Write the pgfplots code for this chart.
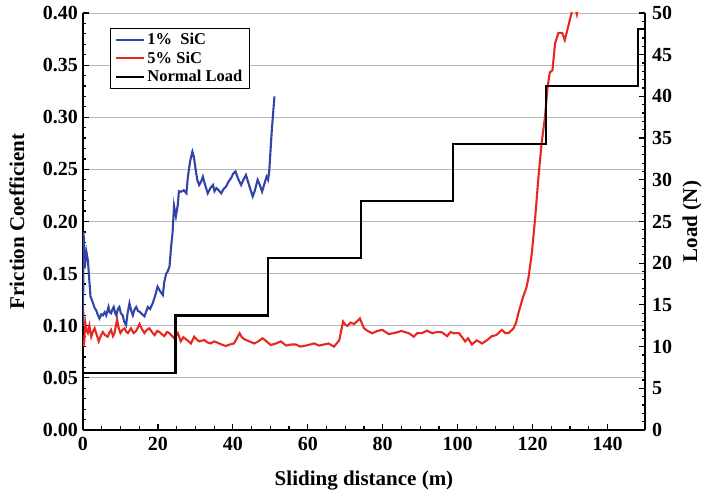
\documentclass[border=0pt]{standalone}
\usepackage{fontspec}
\setmainfont{Liberation Serif}
\usepackage{pgfplots}
\pgfplotsset{compat=1.18}
\definecolor{cblue}{RGB}{50,68,170}
\definecolor{cred}{RGB}{232,40,30}
\begin{document}
\begin{tikzpicture}
\pgfplotsset{
  every axis/.append style={
    scale only axis, width=562pt, height=417pt,
    xmin=0, xmax=150,
    /pgf/number format/assume math mode=true,
    tick label style={font=\fontsize{20}{22}\selectfont\bfseries},
    label style={font=\fontsize{21}{23}\selectfont\bfseries},
    line width=1.6pt,
    major tick length=6pt, minor tick length=3.5pt,
    every tick/.style={line width=1.2pt, black},
    tick align=inside,
  }
}
\begin{axis}[
  ymin=0, ymax=0.40,
  ytick={0,0.05,...,0.40},
  yticklabel style={xshift=-1pt, /pgf/number format/.cd, fixed, fixed zerofill, precision=2},
  xticklabel style={yshift=-3pt},
  xtick={0,20,...,140},
  minor x tick num=3,
  minor y tick num=4,
  ymajorgrids,
  major grid style={line width=0.8pt, gray!55},
  axis y line*=left,
  axis x line*=bottom,
  xlabel={Sliding distance (m)},
  ylabel={Friction Coefficient},
  xlabel style={yshift=-13pt},
  ylabel style={yshift=11pt},
  clip=true,
]
\addplot[cred, line width=2.1pt] coordinates {
(0,0.080) (0.3,0.083) (0.6,0.103) (0.9,0.096) (1.3,0.093) (1.7,0.1) (2.2,0.0895) (2.6,0.094) (3.1,0.0975) (3.6,0.092) (4.2,0.085) (4.7,0.09) (5.3,0.094)
(5.9,0.091) (6.6,0.0895) (7.0,0.093) (7.5,0.096) (8.0,0.09) (8.4,0.0928) (9.1,0.106) (9.5,0.098) (10,0.093) (10.5,0.096) (11.1,0.0975) (11.6,0.094) (12,0.093) (12.8,0.0975)
(13.5,0.093) (14.2,0.095) (15.1,0.1017) (15.7,0.097) (16.4,0.093) (17.0,0.096) (17.7,0.0975) (18.4,0.094) (19.1,0.091) (19.8,0.095) (20.4,0.094) (21.0,0.092) (21.7,0.090)
(22.4,0.094) (23.1,0.0928) (23.8,0.09) (24.4,0.088) (25.3,0.093) (26.1,0.085) (26.8,0.089) (27.5,0.087) (28.2,0.085) (28.8,0.083) (29.7,0.0895)
(30.3,0.087) (31,0.085) (32.4,0.0863) (33.2,0.084) (34.1,0.083) (35.0,0.085) (35.9,0.0837) (37.0,0.082) (38.1,0.0806) (39.2,0.082) (40.3,0.083) (41.8,0.0928)
(42.4,0.089) (43.1,0.087) (44.4,0.085) (45.7,0.083) (46.8,0.085) (47.9,0.088) (49.0,0.085) (50.1,0.0815) (51.5,0.083) (52.8,0.085) (54.2,0.081) (55.5,0.082) (56.8,0.082)
(58.0,0.080) (59.5,0.081) (60.6,0.082) (61.7,0.083) (63,0.081) (64.3,0.082) (65.5,0.083) (67,0.080) (68.4,0.086) (69.4,0.104)
(70.0,0.101) (70.6,0.0998) (71.4,0.103) (72.3,0.1017) (73.1,0.104) (73.9,0.107) (75,0.0975) (76.0,0.095) (77.2,0.0928) (78.5,0.095) (79.9,0.096) (81.6,0.092)
(83.4,0.0933) (85.0,0.095) (87,0.0928) (88.3,0.0895) (89.2,0.0928) (90.5,0.093) (91.8,0.0953) (93.2,0.0928) (94.5,0.094) (95.8,0.0937)
(97.2,0.090) (98.1,0.094) (98.9,0.0928) (100.3,0.093) (101.2,0.089) (102,0.085) (102.8,0.088) (103.8,0.082) (105.1,0.086) (106.5,0.083)
(107.8,0.086) (109.1,0.090) (110.3,0.091) (111.8,0.096) (112.7,0.093) (113.6,0.093) (114.9,0.0975) (115.6,0.103) (116.2,0.112) (117.4,0.127)
(118.3,0.136) (118.9,0.146) (119.8,0.170) (120.7,0.204) (121.5,0.240) (122.4,0.275) (123.3,0.300)
(124.0,0.329) (124.6,0.343) (125.3,0.345) (126.0,0.371) (126.9,0.381) (127.9,0.381)
(128.6,0.374) (129.5,0.387) (130.4,0.400) (131,0.41) (131.8,0.399) (132.2,0.41)
};
\addplot[cblue, line width=2.1pt] coordinates {
(0,0.10) (0.15,0.19) (0.45,0.155) (0.9,0.171) (1.3,0.163) (2.0,0.128) (2.7,0.1215) (3.1,0.117) (3.5,0.115)
(4.0,0.110) (4.4,0.107) (4.9,0.111) (5.3,0.110) (5.8,0.113) (6.2,0.110) (6.8,0.118) (7.1,0.113) (7.5,0.112) (7.9,0.116) (8.2,0.118) (8.6,0.112) (8.9,0.110) (9.3,0.116) (9.7,0.118)
(10.1,0.112) (10.6,0.110) (11.0,0.104) (11.5,0.1007) (11.9,0.112) (12.4,0.1215) (12.9,0.114) (13.3,0.110) (13.7,0.115) (14.2,0.118) (14.7,0.114) (15.1,0.1135) (15.8,0.111) (16.4,0.109)
(16.9,0.114) (17.3,0.118) (17.9,0.116) (18.6,0.1215) (19.2,0.128) (19.9,0.1375) (20.6,0.133) (21.3,0.1295) (21.7,0.142) (22.2,0.150) (22.6,0.152) (23.1,0.157) (23.5,0.175) (23.9,0.189)
(24.3,0.215) (24.8,0.205) (25.3,0.216) (25.6,0.229) (26.2,0.2286) (26.9,0.230) (27.6,0.227) (28,0.243)
(28.6,0.258) (29.2,0.267) (29.6,0.262) (30.1,0.249) (30.5,0.240) (31,0.235) (31.5,0.238) (32,0.243) (32.6,0.235) (33.3,0.227) (34.0,0.232) (34.7,0.235) (35.1,0.229) (35.6,0.232)
(36.2,0.23) (36.9,0.227) (37.5,0.231) (38.2,0.2335) (38.8,0.238) (39.5,0.2415) (40.1,0.246) (40.7,0.248) (41.4,0.241) (42.2,0.235) (42.8,0.240) (43.5,0.2446) (44.4,0.234) (45.3,0.224)
(45.9,0.230) (46.6,0.240) (47.2,0.235) (47.8,0.2286) (48.4,0.236) (49,0.243) (49.4,0.240) (49.7,0.248) (50.4,0.288) (51.1,0.320)
};
\end{axis}
\begin{axis}[
  ymin=0, ymax=50,
  ytick={0,5,...,50},
  minor y tick num=4,
  axis y line*=right,
  axis x line=none,
  yticklabel style={xshift=3pt},
  ylabel={Load (N)},
  ylabel style={yshift=-3pt},
  legend style={at={(0.048,0.964)}, anchor=north west, draw=black, line width=0.8pt,
    font=\fontsize{16.5}{19}\selectfont\bfseries, row sep=1.5pt, inner xsep=5pt, inner ysep=3pt},
  legend cell align=left,
  legend image post style={line width=2.1pt},
  legend image code/.code={\draw[#1] (0pt,0pt) -- (28pt,0pt);},
]
\addlegendimage{cblue}
\addlegendentry{1\%\ \ SiC}
\addlegendimage{cred}
\addlegendentry{5\% SiC}
\addplot[black, line width=2.1pt] coordinates {
(0,6.87) (24.7,6.87) (24.7,13.73) (49.4,13.73) (49.4,20.6) (74.1,20.6) (74.1,27.47)
(98.8,27.47) (98.8,34.33) (123.5,34.33) (123.5,41.2) (148.2,41.2) (148.2,48.07) (150,48.07)
};
\addlegendentry{Normal Load}
\end{axis}
\pgfresetboundingbox
\path[use as bounding box] (-83pt,-64pt) rectangle (621pt,430pt);
\end{tikzpicture}
\end{document}
